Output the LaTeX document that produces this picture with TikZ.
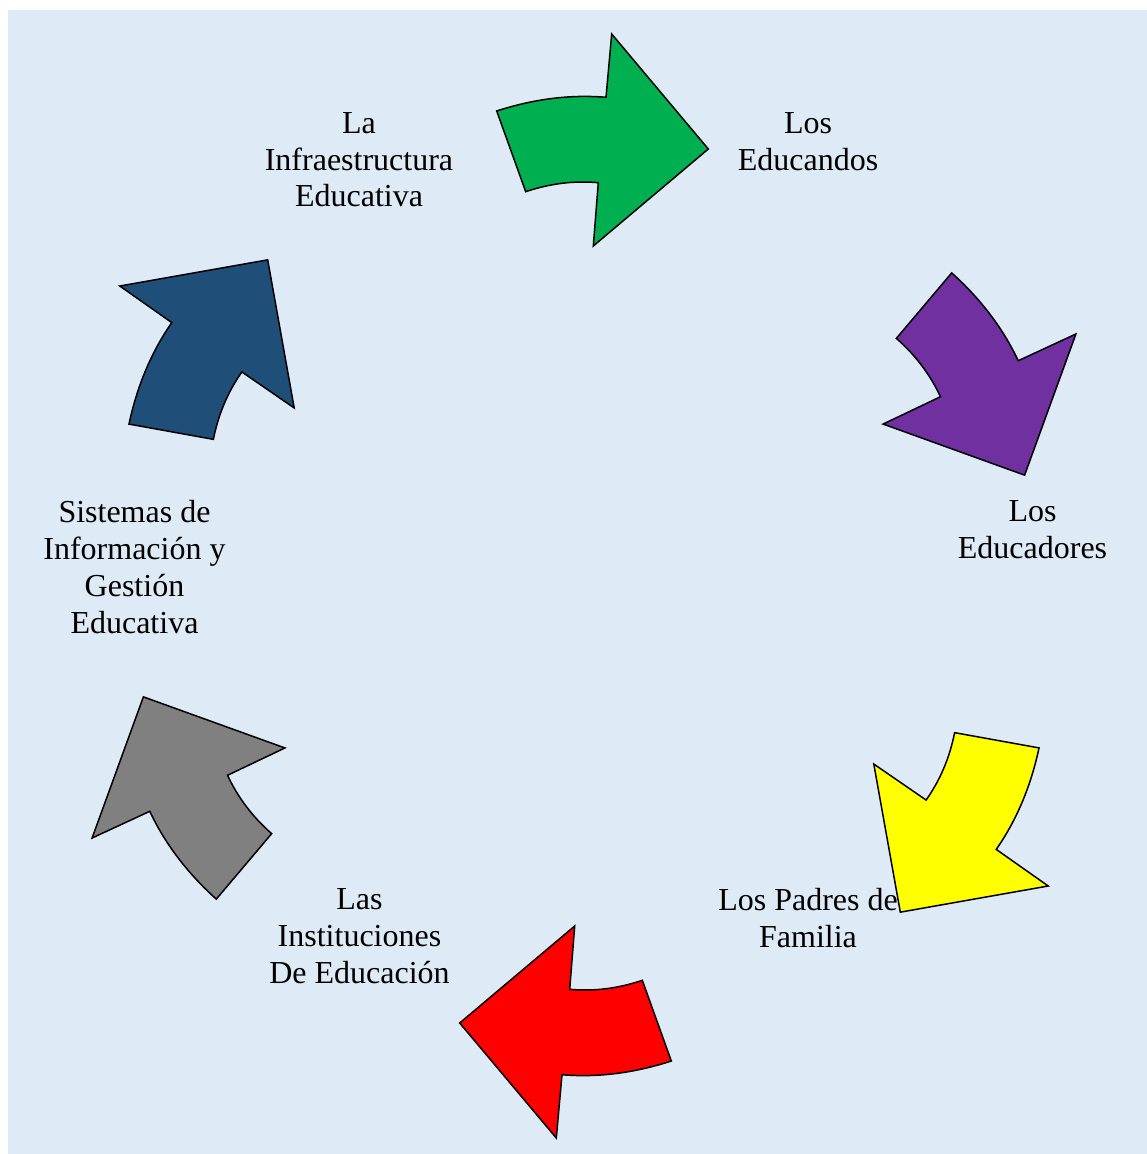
\documentclass[tikz,border=0pt]{standalone}
\usepackage{fontspec}
\setmainfont{Liberation Serif}
\definecolor{bgblue}{HTML}{DEEAF6}
\definecolor{greenA}{HTML}{00B050}
\definecolor{purpleA}{HTML}{7030A0}
\definecolor{yellowA}{HTML}{FFFF00}
\definecolor{redA}{HTML}{FF0000}
\definecolor{grayA}{HTML}{808080}
\definecolor{navyA}{HTML}{1F4E79}
\tikzset{
  arrowline/.style={draw=black, line width=1.5pt, line join=miter},
  label/.style={font=\fontsize{32}{36.8}\selectfont, align=center, inner sep=0pt, anchor=north, text=black}
}
\begin{document}
\begin{tikzpicture}[x=1pt, y=-1pt]
\useasboundingbox (0,0) rectangle (1147,1154);
\fill[bgblue] (8,10) rectangle (1147,1154);
\foreach \ang/\col in {0/greenA, -60/purpleA, -120/yellowA, 180/redA, 120/grayA, 60/navyA}{
  \draw[arrowline, fill=\col, rotate around={\ang:(584,586)}]
    (496.7,111) -- (525.7,191.7)
    .. controls (549.9,183.5) and (574.0,180.5) .. (598.3,182.7)
    -- (593.3,246) -- (708.3,149) -- (611.7,34) -- (606,97.3)
    .. controls (570.4,94.3) and (534.0,98.9) .. (496.7,111) -- cycle;
}
\node[label] (infra) at (359,112.1) {La\\Infraestructura\\Educativa};
\node[label] (educandos) at (808,112.1) {Los\\Educandos};
\node[label] (educadores) at (1032.5,500.8) {Los\\Educadores};
\node[label] (padres) at (808,888.1) {Los Padres de\\Familia};
\node[label] (instituciones) at (359.5,888.8) {Las\\Instituciones\\De Educación};
\node[label] (sistemas) at (134.5,500.4) {Sistemas de\\Información y\\Gestión\\Educativa};
\end{tikzpicture}
\end{document}
